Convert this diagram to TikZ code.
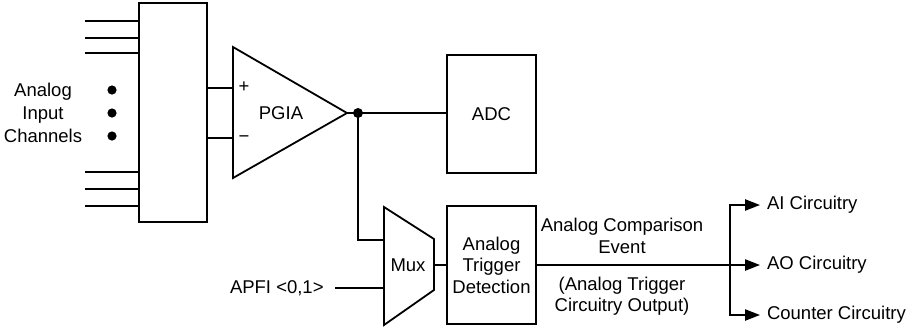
\documentclass[tikz,border=0pt]{standalone}
\usepackage{fontspec}
\setmainfont{Liberation Sans}
\usepackage{tikz}
\usetikzlibrary{shapes.geometric, arrows.meta, positioning, calc}
\tikzstyle{block}  = [rectangle, draw=black, line width=0.9pt, fill=white, inner sep=0pt,
                      text centered, align=center]
\tikzstyle{wire}   = [line width=0.9pt]
\tikzstyle{arrow}  = [line width=0.9pt, -{Triangle[length=7.5pt, width=5.6pt]}]
\tikzstyle{lbl}    = [align=center, inner sep=0pt]
\tikzstyle{dot}    = [circle, fill=black, inner sep=0pt, minimum size=4.6pt]

\begin{document}
\begin{tikzpicture}[x=0.5pt, y=-0.5pt,
    every node/.style={font=\fontsize{9.25}{10.75}\selectfont}]
  \useasboundingbox (0,0) rectangle (912,334);

  % input channels and switch box
  \node (chanbox) [block, minimum width=34pt, minimum height=109.5pt] at (173,112.5) {};
  \foreach \y [count=\i] in {21,38,53,172,189,206} {
    \coordinate (in\i) at (85,\y);
    \draw[wire] (in\i) -- (in\i -| chanbox.west);
  }
  \foreach \y [count=\i] in {90,113,136}
    \node (gap\i) [dot] at (112,\y) {};
  \node (chanlbl) [lbl, font=\fontsize{9.25}{11.5}\selectfont] at (43,113) {Analog\\Input\\Channels};

  % amplifier
  \coordinate (pgiatop) at (233,47);
  \coordinate (pgiaout) at (347,113);
  \coordinate (pgiabot) at (233,178);
  \draw[wire, line join=miter] (pgiatop) -- (pgiaout) -- (pgiabot) -- cycle;
  \coordinate (pgiaplus)  at (233,88);
  \coordinate (pgiaminus) at (233,138);
  \draw[wire] (chanbox.east |- pgiaplus) -- (pgiaplus);
  \draw[wire] (chanbox.east |- pgiaminus) -- (pgiaminus);
  \node (plus)  [lbl] at (244,87) {+};
  \node (minus) [lbl] at (244,139) {−};
  \node (pgia)  [lbl] at (281,113) {PGIA};

  % converter
  \node (adc) [block, minimum width=44.5pt, minimum height=59pt] at (491.5,114) {ADC};
  \coordinate (split) at (358,113);
  \draw[wire] (pgiaout) -- (split -| adc.west);
  \node (splitdot) [dot, minimum size=5pt] at (split) {};

  % trigger path
  \coordinate (muxtl) at (384,207);
  \coordinate (muxtr) at (434,239);
  \coordinate (muxbr) at (434,290);
  \coordinate (muxbl) at (384,325);
  \draw[wire, line join=miter] (muxtl) -- (muxtr) -- (muxbr) -- (muxbl) -- cycle;
  \node (mux) [lbl] at (408,265) {Mux};
  \coordinate (muxa) at (384,240);
  \coordinate (muxb) at (384,288);
  \coordinate (muxout) at (434,265);
  \draw[wire] (split) |- (muxa);
  \node (apfi) [anchor=east, inner xsep=5.5pt, inner ysep=0pt] at (335,288) {APFI <0,1>};
  \draw[wire] (apfi.east) -- (muxb);

  \node (atd) [block, minimum width=44.5pt, minimum height=59pt] at (491.5,265)
        {Analog\\Trigger\\Detection};
  \draw[wire] (muxout) -- (atd.west);

  % outputs
  \node (ai)      [anchor=west] at (760,205) {AI Circuitry};
  \node (ao)      [anchor=west] at (760,265) {AO Circuitry};
  \node (counter) [anchor=west] at (760,315) {Counter Circuitry};
  \coordinate (branch) at (730,265);
  \draw[arrow] (atd.east) -- (ao.west);
  \draw[arrow] (branch) |- (ai.west);
  \draw[arrow] (branch) |- (counter.west);

  \node (evt)    [lbl] at (622,236) {Analog Comparison\\Event};
  \node (evtout) [lbl] at (622,296) {(Analog Trigger\\Circuitry Output)};
\end{tikzpicture}
\end{document}
